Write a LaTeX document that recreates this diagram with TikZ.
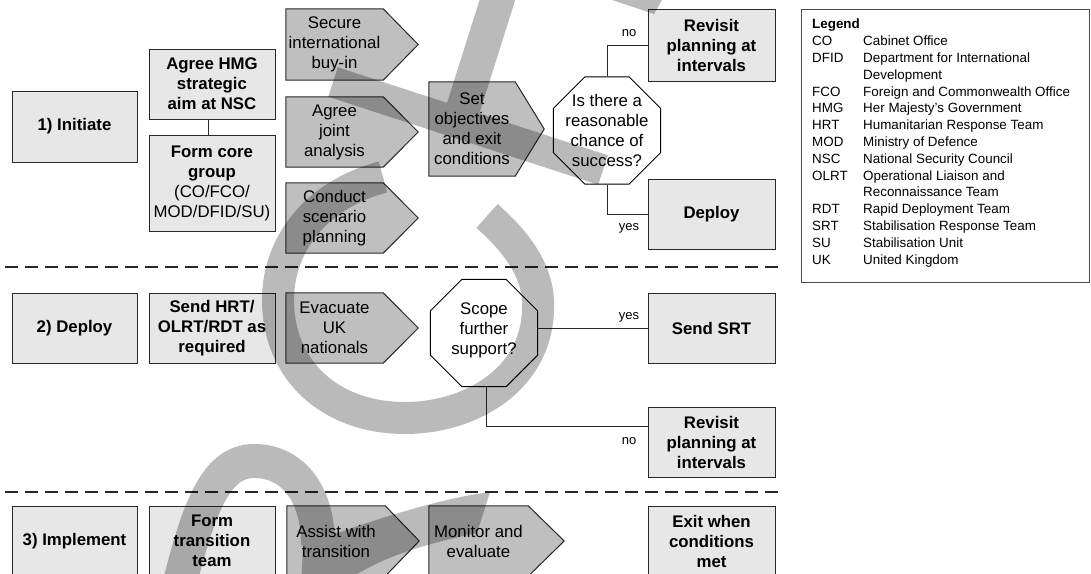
\documentclass[tikz,border=0pt]{standalone}
\usepackage{fontspec}
\setmainfont{Liberation Sans}
\usetikzlibrary{shapes.geometric,calc}
\pgfdeclarelayer{bg}
\pgfsetlayers{bg,main}
\definecolor{boxfill}{RGB}{231,231,231}
\definecolor{arrfill}{RGB}{191,191,191}
\definecolor{edgecol}{RGB}{40,40,40}
\newcommand\mainfs{\fontsize{16.8}{20}\selectfont}
\newcommand\smallfs{\fontsize{13}{15}\selectfont}
\newcommand\legfs{\fontsize{13.4}{16.8}\selectfont}
\newcommand\lab[1]{\makebox[51pt][l]{#1}}
\begin{document}
\begin{tikzpicture}[x=1pt,y=-1pt,
  lbox/.style={draw=edgecol, fill=boxfill, line width=1pt, minimum width=126pt, minimum height=70pt, inner sep=0pt, align=center, font=\mainfs\bfseries},
  abody/.style={minimum width=97pt, minimum height=70pt, inner sep=0pt, align=center, font=\mainfs},
  apent/.style={draw=edgecol, fill=arrfill, line width=1pt},
  octo/.style={regular polygon, regular polygon sides=8, draw=black, fill=white, line width=1pt, minimum size=116pt, inner sep=0pt},
  octtext/.style={font=\mainfs, align=center, inner sep=0pt},
  conn/.style={draw=edgecol, line width=1pt},
  lbl/.style={font=\smallfs, inner sep=0pt},
  sepline/.style={draw=black!85, line width=2.6pt, dash pattern=on 13pt off 7pt},
]
\useasboundingbox (0,0) rectangle (1091,573);

% ---- row 1
\node[lbox, minimum width=125pt, minimum height=71pt] (init) at (74.5,126.5) {1) Initiate};
\node[lbox] (agree) at (212,84) {Agree HMG\\strategic\\aim at NSC};
\node[lbox, minimum height=96pt, font=\mainfs] (core) at (212,183) {\textbf{Form core}\\\textbf{group}\\(CO/FCO/\\MOD/DFID/SU)};
\node[abody, minimum height=71pt] (secure) at (334.5,44.5) {Secure\\international\\buy-in};
\node[abody] (joint) at (334.5,132) {Agree\\joint\\analysis};
\node[abody] (scen) at (334.5,218) {Conduct\\scenario\\planning};
\node[abody, minimum width=86pt, minimum height=94pt] (setobj) at (472,129) {Set\\objectives\\and exit\\conditions};
\node[octo] (q1) at (607,130.5) {};
\node[octtext] (q1t) at (607,130.5) {Is there a\\reasonable\\chance of\\success?};
\node[lbox, minimum width=127pt, minimum height=72pt] (rev1) at (711.5,45) {Revisit\\planning at\\intervals};
\node[lbox, minimum width=127pt] (dep) at (711.5,214) {Deploy};

% ---- row 2
\node[lbox, minimum width=125pt] (dpl) at (74.5,328) {2) Deploy};
\node[lbox] (send) at (212,328) {Send HRT/\\OLRT/RDT as\\required};
\node[abody] (evac) at (334.5,328) {Evacuate\\UK\\nationals};
\node[octo] (q2) at (484,333) {};
\node[octtext] (q2t) at (484,330) {Scope\\further\\support?};
\node[lbox, minimum width=127pt] (srt) at (711.5,328) {Send SRT};
\node[lbox, minimum width=127pt] (rev2) at (711.5,442) {Revisit\\planning at\\intervals};

% ---- row 3
\node[lbox, minimum width=125pt] (impl) at (74.5,541) {3) Implement};
\node[lbox] (form) at (212,541) {Form\\transition\\team};
\node[abody, minimum width=98pt] (assist) at (336,541) {Assist with\\transition};
\node[abody, minimum width=99pt] (monitor) at (478.5,541) {Monitor and\\evaluate};
\node[lbox, minimum width=127pt] (exitb) at (711.5,541) {Exit when\\conditions\\met};

% ---- arrow pentagons
\begin{pgfonlayer}{bg}
\foreach \n/\t in {secure/35,joint/35,scen/35,setobj/29,evac/35,assist/34,monitor/36}{
  \draw[apent] (\n.north west) -- (\n.north east) -- ([xshift=\t pt]\n.east) -- (\n.south east) -- (\n.south west) -- cycle;
}
\end{pgfonlayer}

% ---- labels
\node[lbl] (no1) at (629,33) {no};
\node[lbl] (yes1) at (629,228) {yes};
\node[lbl] (yes2) at (629,317) {yes};
\node[lbl] (no2) at (629,441) {no};

% ---- connectors
\draw[conn] ([xshift=-4pt]agree.south) -- ([xshift=-4pt]core.north);
\draw[conn] (q1.north) |- (rev1.west);
\draw[conn] (q1.south) |- (dep.west);
\draw[conn] (srt.west) -- (srt.west -| q2.east);
\draw[conn] ([xshift=2pt]q2.south) |- ([yshift=16pt]rev2.west);

% ---- separators
\draw[sepline] (5,267) -- (785,267);
\draw[sepline] (5,492) -- (785,492);

% ---- legend
\node[draw=black!70, line width=0.8pt, minimum width=288pt, minimum height=273pt, anchor=north west, inner sep=0pt] (legbox) at (801,9) {};
\node[anchor=north west, align=left, font=\legfs, inner sep=0pt] (legtext) at (812,19) {\textbf{Legend}\\
\lab{CO}Cabinet Office\\
\lab{DFID}Department for International\\
\lab{}Development\\
\lab{FCO}Foreign and Commonwealth Office\\
\lab{HMG}Her Majesty’s Government\\
\lab{HRT}Humanitarian Response Team\\
\lab{MOD}Ministry of Defence\\
\lab{NSC}National Security Council\\
\lab{OLRT}Operational Liaison and\\
\lab{}Reconnaissance Team\\
\lab{RDT}Rapid Deployment Team\\
\lab{SRT}Stabilisation Response Team\\
\lab{SU}Stabilisation Unit\\
\lab{UK}United Kingdom};

% ---- watermark
\begin{scope}[transparency group, opacity=0.27]
  \draw[line width=32pt, black] (487,216) .. controls (520,245) and (540,275) .. (538,310) .. controls (536,380) and (470,418) .. (405,418) .. controls (330,418) and (278,370) .. (278,300) .. controls (278,245) and (315,195) .. (383,177);
  \draw[line width=31pt, black] (333,82) -- (603,170);
  \draw[line width=34pt, black] (499,-5) -- (462,112);
  \fill[black] (612,0) -- (662,0) -- (654,14) -- cycle;
  \draw[line width=34pt, black] (178,590) .. controls (198,510) and (215,461) .. (254,461) .. controls (290,461) and (318,490) .. (318,545);
  \fill[black] (301,590) -- (303,545) .. controls (360,525) and (430,500) .. (490,492) -- (477,533) .. controls (420,545) and (370,560) .. (335,590) -- cycle;
\end{scope}
\end{tikzpicture}
\end{document}
